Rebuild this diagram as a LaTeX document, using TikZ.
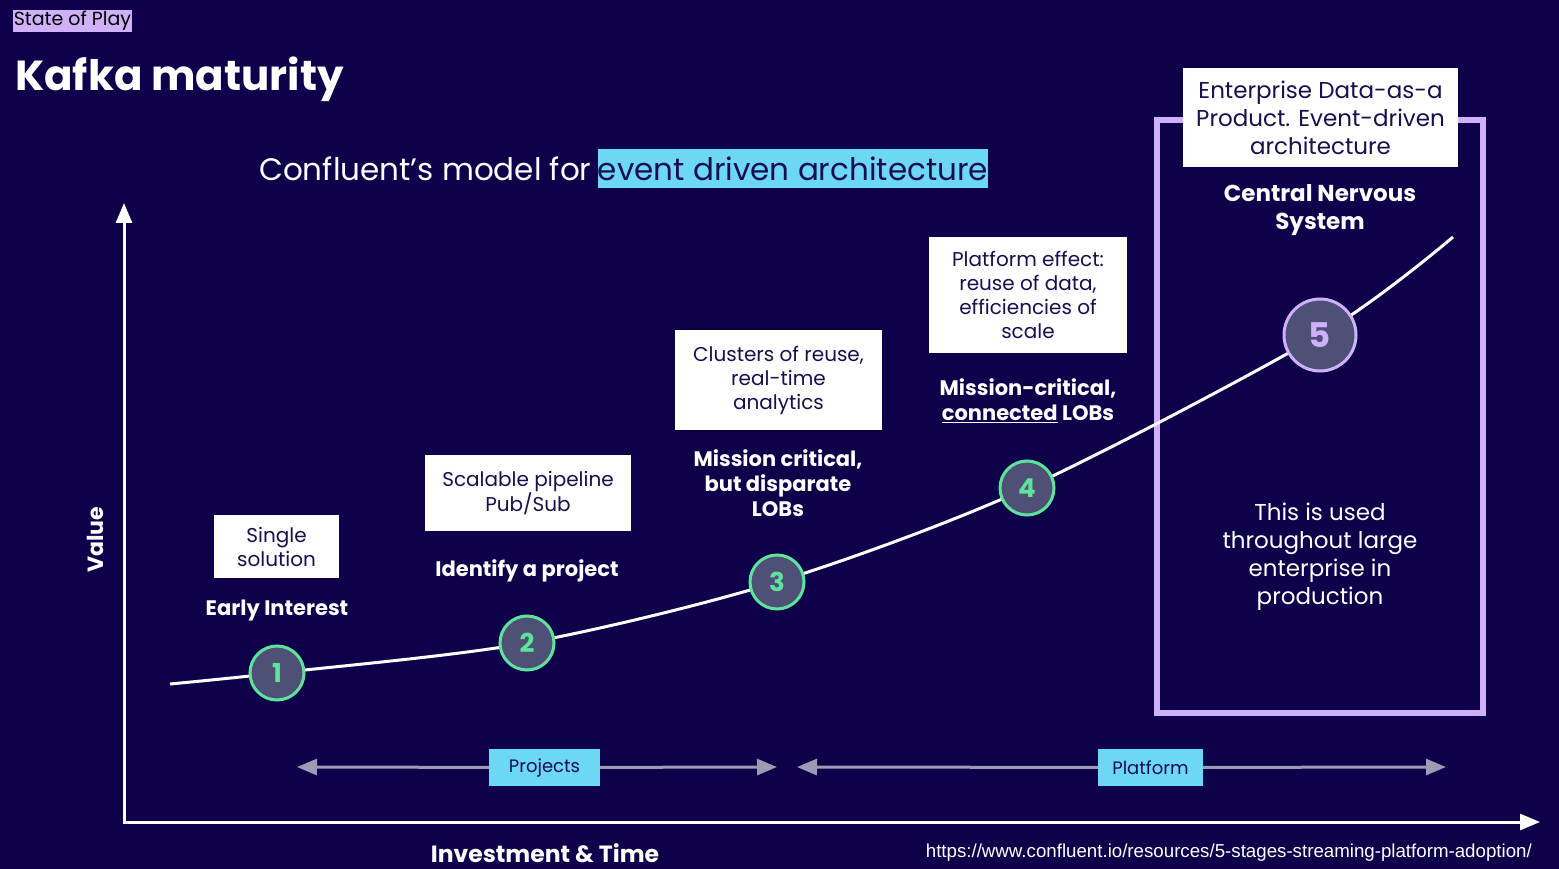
\documentclass[tikz,border=0pt]{standalone}
\usepackage{fontspec}
\setmainfont{Poppins}
\newfontfamily\urlfont{Liberation Sans}
\usetikzlibrary{arrows.meta,positioning}
\definecolor{bgnavy}{HTML}{0E004A}
\definecolor{textnavy}{HTML}{1A0F4E}
\definecolor{hlcyan}{HTML}{6CD8F4}
\definecolor{lavender}{HTML}{CFB0FA}
\definecolor{stagegreen}{HTML}{5DE39C}
\definecolor{stagefill}{HTML}{4F5075}
\definecolor{spangray}{HTML}{9B9BB4}
\newcommand{\fs}[1]{\fontsize{#1}{1.2\dimexpr#1pt\relax}\selectfont}

\begin{document}
\begin{tikzpicture}[x=1pt,y=-1pt,
    note/.style={fill=white,text=textnavy,align=center,inner sep=0pt,font=\fs{20}},
    stage/.style={circle,fill=stagefill,draw=stagegreen,line width=3pt,minimum size=54pt,inner sep=0pt,text=stagegreen,font=\fs{26}\bfseries},
    stagelabel/.style={text=white,align=center,font=\fontsize{21}{25}\selectfont\bfseries},
    tag/.style={fill=hlcyan,text=textnavy,inner sep=0pt,minimum height=37pt,font=\fs{18}},
    span/.style={spangray,line width=3pt,-{Triangle[length=20pt,width=16pt]}},
    axis/.style={white,line width=3pt,-{Triangle[length=20pt,width=16pt]}},
    curve/.style={white,line width=3pt}]
    \fill [bgnavy] (0,0) rectangle (1559,869);
    % header
    \node[fill=lavender,text=black,inner sep=0pt,minimum width=119pt,minimum height=22pt,font=\fs{19}] (tagline) at (72.5,21) {State of Play};
    \node[anchor=base west,text=white,inner sep=0pt,font=\fs{42}\bfseries] (title) at (15,91) {Kafka maturity};
    \node[fill=hlcyan,text=textnavy,inner sep=0pt,minimum width=384pt,minimum height=39pt,font=\fs{31}] (eda) at (793,168.5) {event driven architecture};
    \node[anchor=base east,text=white,inner sep=0pt,font=\fs{31}] (subtitle) at ([xshift=-6pt]eda.base west) {Confluent’s model for};
    % axes
    \coordinate (origin) at (124,822);
    \coordinate (ytop) at (124,203);
    \coordinate (xend) at (1540,822);
    \draw [axis] (origin) -- (ytop);
    \draw [axis] ([xshift=-1.5pt]origin) -- (xend);
    \node[rotate=90,text=white,font=\fs{22}\bfseries] (value) at (95,540) {Value};
    \node[text=white,font=\fs{23.5}\bfseries] (invest) at (545,853) {Investment \& Time};
    \node[anchor=east,text=white,inner sep=0pt,font=\urlfont\fs{18.7}] (url) at (1532,853) {https://www.confluent.io/resources/5-stages-streaming-platform-adoption/};
    % platform frame
    \draw [lavender,line width=6pt] (1157,120) rectangle (1483,713);
    % maturity curve
    \coordinate (p0) at (170,684);
    \coordinate (p1) at (277,673);
    \coordinate (p2) at (527,643);
    \coordinate (p3) at (777,582);
    \coordinate (p4) at (1027,488);
    \coordinate (p5) at (1320,335);
    \coordinate (p6) at (1453,237);
    \draw [curve] plot[smooth,tension=0.5] coordinates {(p0) (p1) (p2) (p3) (p4) (p5) (p6)};
    \foreach \i in {1,...,4} {
        \node[stage] (s\i) at (p\i) {\i};
    }
    \node[stage,draw=lavender,text=lavender,minimum size=72pt,font=\fs{34}\bfseries] (s5) at (p5) {5};
    % stage notes
    \node[note,minimum width=125pt,minimum height=63pt] (note1) at (276.5,546.5) {Single\\solution};
    \node[note,minimum width=206pt,minimum height=76pt] (note2) at (528,493) {Scalable pipeline\\Pub/Sub};
    \node[note,minimum width=207pt,minimum height=100pt] (note3) at (778.5,380) {Clusters of reuse,\\real-time\\analytics};
    \node[note,minimum width=198pt,minimum height=116pt] (note4) at (1028,295) {Platform effect:\\reuse of data,\\efficiencies of\\scale};
    \node[note,minimum width=275pt,minimum height=99pt,font=\fontsize{23}{28}\selectfont] (note5) at (1320.5,117.5) {Enterprise Data-as-a\\Product. Event-driven\\architecture};
    % stage labels
    \node[stagelabel] (lab1) at (277,611) {Early Interest};
    \node[stagelabel] (lab2) at (527,571) {Identify a project};
    \node[stagelabel] (lab3) at (778,483) {Mission critical,\\but disparate\\LOBs};
    \node[stagelabel] (lab4) at (1028,401) {Mission-critical,\\\underline{connected} LOBs};
    \node[stagelabel,font=\fontsize{23}{28}\selectfont\bfseries] (lab5) at (1320,210) {Central Nervous\\System};
    \node[text=white,align=center,font=\fontsize{23}{28}\selectfont] (usage) at (1320,557) {This is used\\throughout large\\enterprise in\\production};
    % spans
    \coordinate (pj0) at (297,767);
    \coordinate (pj1) at (777,767);
    \coordinate (pf0) at (797,767);
    \coordinate (pf1) at (1446,767);
    \node[tag,minimum width=111pt] (projects) at (544.5,767.5) {Projects};
    \node[tag,minimum width=105pt] (platform) at (1150.5,767.5) {Platform};
    \draw [span] (projects) -- (pj0);
    \draw [span] (projects) -- (pj1);
    \draw [span] (platform) -- (pf0);
    \draw [span] (platform) -- (pf1);
\end{tikzpicture}
\end{document}
